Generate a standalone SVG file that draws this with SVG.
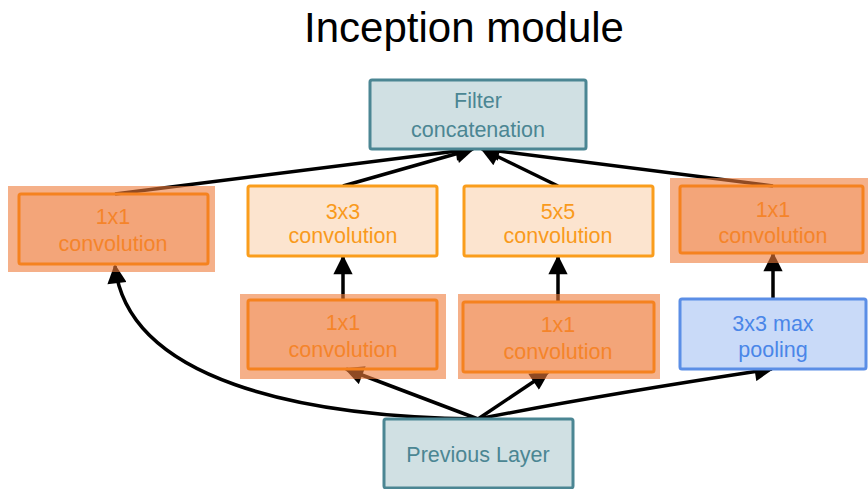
<svg xmlns="http://www.w3.org/2000/svg" width="868" height="489" viewBox="0 0 868 489">
<style>
text{font-family:"Liberation Sans",Arial,sans-serif;text-anchor:middle}
.t{font-size:21.5px}
.halo{fill:#ee7b3a;fill-opacity:0.6}
.c1{fill:#ee8c55;fill-opacity:0.3;stroke:#f5821f;stroke-width:3}
.c1t{fill:#f5842a}
.c3{fill:#fce4cf;stroke:#fa9d1c;stroke-width:3}
.c3t{fill:#f99a1c}
.teal{fill:#d0e0e3;stroke:#4b8693;stroke-width:3}
.tealt{fill:#4b8693}
.pool{fill:#c9daf8;stroke:#5b8ee6;stroke-width:3}
.poolt{fill:#4a86e8}
.e{fill:none;stroke:#000;stroke-width:3.5}
</style>
<defs>
<marker id="ah" viewBox="0 0 10 10" refX="9" refY="5" markerWidth="6" markerHeight="5.5" markerUnits="strokeWidth" orient="auto">
<path d="M0,0 L10,5 L0,10 z" fill="#000"/>
</marker>
</defs>
<text x="464" y="42" style="font-size:42px" fill="#000">Inception module</text>
<g id="connectors">
<path class="e" d="M115,194 L473,149" marker-end="url(#ah)"/>
<path class="e" d="M343,186 L473,149" marker-end="url(#ah)"/>
<path class="e" d="M558,186 L482,149" marker-end="url(#ah)"/>
<path class="e" d="M773,186 L482,149" marker-end="url(#ah)"/>
<path class="e" d="M343,300 L343,257" marker-end="url(#ah)"/>
<path class="e" d="M558,302 L558,257" marker-end="url(#ah)"/>
<path class="e" d="M773,299 L773,254" marker-end="url(#ah)"/>
<path class="e" d="M478,419 C300,417 128,380 115,266" marker-end="url(#ah)"/>
<path class="e" d="M478,419 L346,369" marker-end="url(#ah)"/>
<path class="e" d="M478,419 L548,372" marker-end="url(#ah)"/>
<path class="e" d="M478,419 C600,395 700,380 772,369" marker-end="url(#ah)"/>
</g>
<g id="filter-concat">
<rect class="teal" x="370" y="80" width="216" height="69" rx="2"/>
<text class="t tealt" x="478" y="108">Filter</text>
<text class="t tealt" x="478" y="137">concatenation</text>
</g>
<g id="conv1x1-a">
<rect class="halo" x="8" y="186" width="207" height="86"/>
<rect class="c1" x="19" y="194" width="189" height="70" rx="2"/>
<text class="t c1t" x="113" y="224">1x1</text>
<text class="t c1t" x="113" y="251">convolution</text>
</g>
<g id="conv3x3">
<rect class="c3" x="248" y="186" width="189" height="70" rx="2"/>
<text class="t c3t" x="343" y="219">3x3</text>
<text class="t c3t" x="343" y="243">convolution</text>
</g>
<g id="conv5x5">
<rect class="c3" x="464" y="186" width="189" height="70" rx="2"/>
<text class="t c3t" x="558" y="219">5x5</text>
<text class="t c3t" x="558" y="243">convolution</text>
</g>
<g id="conv1x1-d">
<rect class="halo" x="670" y="178" width="198" height="85"/>
<rect class="c1" x="680" y="186" width="183" height="67" rx="2"/>
<text class="t c1t" x="773" y="217">1x1</text>
<text class="t c1t" x="773" y="243">convolution</text>
</g>
<g id="conv1x1-b">
<rect class="halo" x="240" y="294" width="206" height="85"/>
<rect class="c1" x="248" y="300" width="189" height="69" rx="2"/>
<text class="t c1t" x="343" y="330">1x1</text>
<text class="t c1t" x="343" y="357">convolution</text>
</g>
<g id="conv1x1-c">
<rect class="halo" x="458" y="294" width="202" height="85"/>
<rect class="c1" x="463" y="302" width="191" height="70" rx="2"/>
<text class="t c1t" x="558" y="332">1x1</text>
<text class="t c1t" x="558" y="359">convolution</text>
</g>
<g id="maxpool">
<rect class="pool" x="680" y="299" width="186" height="70" rx="2"/>
<text class="t poolt" x="773" y="331">3x3 max</text>
<text class="t poolt" x="773" y="357">pooling</text>
</g>
<g id="previous-layer">
<rect class="teal" x="384" y="419" width="189" height="69" rx="2"/>
<text class="t tealt" x="478" y="462">Previous Layer</text>
</g>
</svg>
